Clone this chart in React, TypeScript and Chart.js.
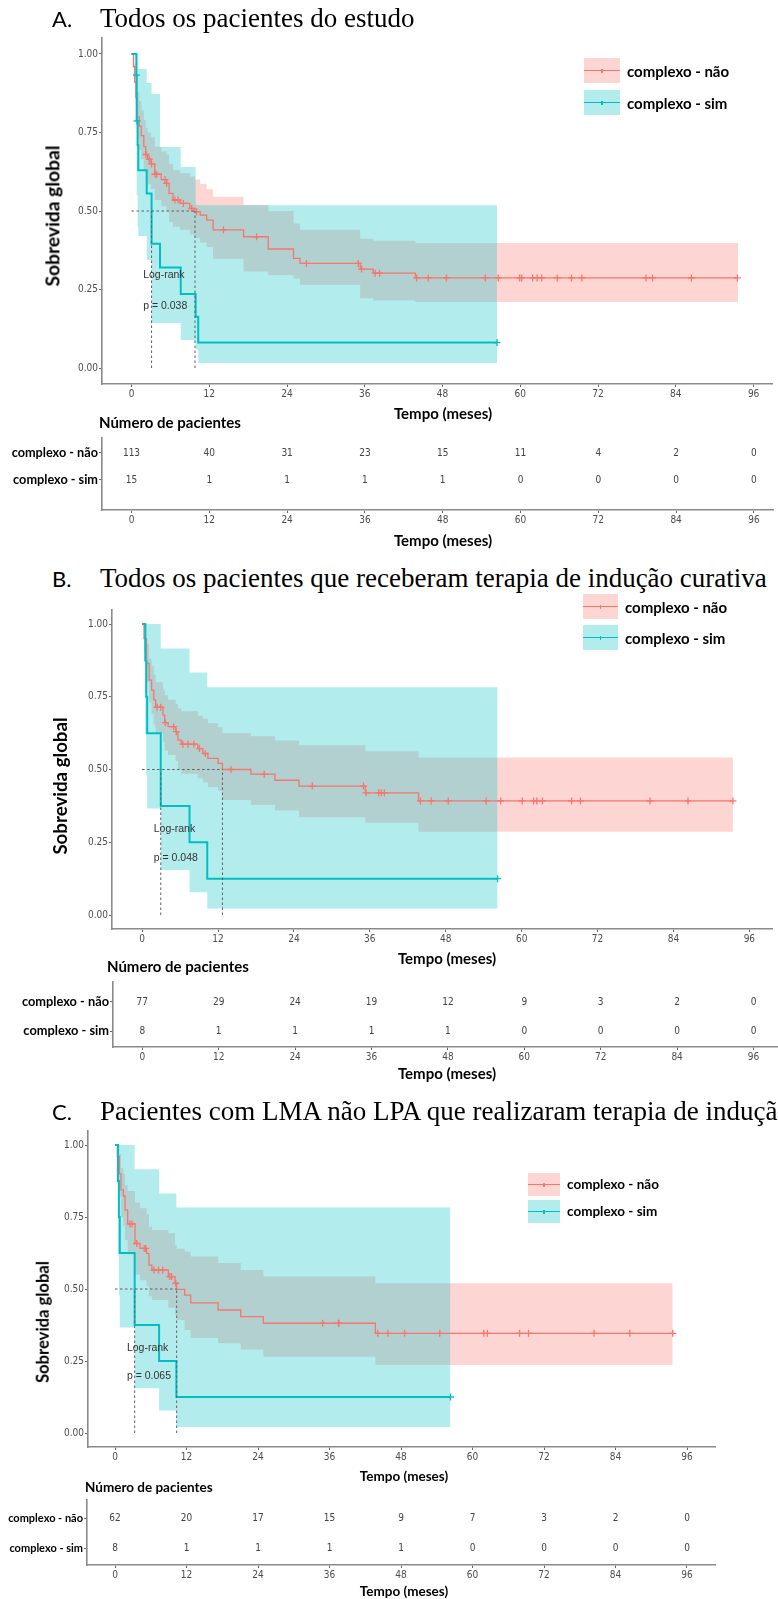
import React, { useEffect, useRef } from 'react';
import { Chart, registerables } from 'chart.js';

Chart.register(...registerables);

// ---------- shared ----------
const TIME_TICKS = [0, 12, 24, 36, 48, 60, 72, 84, 96];
const SURV_TICKS = [0, 0.25, 0.5, 0.75, 1];
const GROUPS = ['complexo - não', 'complexo - sim'];

// ---------- Panel A : Todos os pacientes do estudo ----------
const A_TITLE = 'Todos os pacientes do estudo';
const A_NAO_T = [0, 0.3, 0.5, 0.7, 0.9, 1.2, 1.5, 1.9, 2.2, 2.5, 3.0, 3.6, 4.6, 5.4, 5.8, 6.4, 7.5, 9.0, 9.8, 10.6, 11.6, 12.6, 17.3, 21.1, 25.0, 26.0, 35.3, 37.3, 43.8, 93.6];
const A_NAO_S = [1, 0.96, 0.91, 0.86, 0.80, 0.77, 0.74, 0.705, 0.68, 0.665, 0.65, 0.617, 0.60, 0.588, 0.556, 0.535, 0.524, 0.508, 0.498, 0.487, 0.471, 0.44, 0.418, 0.379, 0.349, 0.333, 0.315, 0.302, 0.287, 0.287];
const A_NAO_UP = [1, 1, 0.97, 0.93, 0.88, 0.85, 0.82, 0.79, 0.765, 0.75, 0.735, 0.705, 0.69, 0.68, 0.65, 0.63, 0.62, 0.61, 0.60, 0.586, 0.569, 0.545, 0.52, 0.50, 0.46, 0.44, 0.412, 0.405, 0.398, 0.398];
const A_NAO_LO = [1, 0.92, 0.86, 0.79, 0.73, 0.695, 0.665, 0.625, 0.60, 0.585, 0.57, 0.535, 0.515, 0.50, 0.465, 0.45, 0.44, 0.425, 0.415, 0.40, 0.385, 0.348, 0.307, 0.296, 0.285, 0.264, 0.222, 0.215, 0.21, 0.21];
const A_NAO_CENS = [2.24, 2.75, 3.1, 3.63, 3.9, 5.17, 5.43, 6.7, 7.2, 8.0, 9.3, 10.05, 14.2, 19.3, 27.0, 35.0, 35.5, 37.6, 38.3, 44.0, 45.8, 48.6, 54.6, 56.6, 59.9, 60.2, 61.9, 62.6, 63.3, 65.7, 67.9, 69.5, 79.4, 80.4, 86.4, 93.5];
const A_SIM_T = [0, 0.75, 0.8, 0.95, 1.05, 2.35, 3.1, 4.4, 7.6, 9.9, 10.3, 56.4];
const A_SIM_S = [1, 0.933, 0.787, 0.71, 0.63, 0.556, 0.396, 0.32, 0.236, 0.163, 0.081, 0.081];
const A_SIM_UP = [1, 1, 1, 1, 0.952, 0.908, 0.873, 0.704, 0.64, 0.52, 0.518, 0.518];
const A_SIM_LO = [1, 0.75, 0.55, 0.45, 0.42, 0.344, 0.143, 0.143, 0.089, 0.06, 0.016, 0.016];
const A_SIM_CENS = [0.77, 0.85, 56.4];
const A_MED_NAO = 9.8;
const A_MED_SIM = 3.1;
const A_P = 'p = 0.038';
const A_RISK_NAO = [113, 40, 31, 23, 15, 11, 4, 2, 0];
const A_RISK_SIM = [15, 1, 1, 1, 1, 0, 0, 0, 0];

// ---------- Panel B : indução curativa ----------
const B_TITLE = 'Todos os pacientes que receberam terapia de indução curativa';
const B_NAO_T = [0, 0.3, 0.7, 1.1, 1.5, 1.85, 2.15, 3.3, 3.57, 4.1, 5.3, 5.66, 6.2, 8.8, 9.6, 10.4, 12.0, 12.7, 17.2, 21.0, 24.8, 35.3, 43.7, 93.4];
const B_NAO_S = [1, 0.95, 0.865, 0.807, 0.773, 0.739, 0.714, 0.687, 0.661, 0.647, 0.63, 0.601, 0.587, 0.572, 0.555, 0.538, 0.521, 0.50, 0.484, 0.463, 0.443, 0.42, 0.392, 0.392];
const B_NAO_UP = [1, 1, 0.93, 0.88, 0.855, 0.825, 0.80, 0.775, 0.755, 0.74, 0.725, 0.71, 0.70, 0.685, 0.675, 0.66, 0.645, 0.625, 0.614, 0.60, 0.583, 0.563, 0.541, 0.541];
const B_NAO_LO = [1, 0.9, 0.80, 0.73, 0.69, 0.655, 0.625, 0.595, 0.565, 0.55, 0.53, 0.50, 0.485, 0.47, 0.455, 0.44, 0.426, 0.395, 0.378, 0.359, 0.336, 0.317, 0.286, 0.286];
const B_NAO_CENS = [2.37, 2.94, 3.67, 4.98, 5.4, 6.45, 7.24, 8.18, 9.07, 10.0, 14.05, 19.3, 26.9, 35.0, 35.4, 37.4, 37.8, 38.3, 44.0, 45.7, 48.4, 54.4, 56.7, 60.1, 61.9, 62.4, 63.3, 67.9, 69.3, 80.3, 86.3, 93.4];
const B_SIM_T = [0, 0.5, 0.65, 0.8, 2.95, 7.5, 10.3, 56.2];
const B_SIM_S = [1, 0.875, 0.75, 0.625, 0.375, 0.25, 0.125, 0.125];
const B_SIM_UP = [1, 1, 1, 1, 0.916, 0.833, 0.783, 0.783];
const B_SIM_LO = [1, 0.62, 0.48, 0.366, 0.155, 0.078, 0.022, 0.022];
const B_SIM_CENS = [56.2];
const B_MED_NAO = 12.7;
const B_MED_SIM = 2.95;
const B_P = 'p = 0.048';
const B_RISK_NAO = [77, 29, 24, 19, 12, 9, 3, 2, 0];
const B_RISK_SIM = [8, 1, 1, 1, 1, 0, 0, 0, 0];

// ---------- Panel C : LMA não LPA ----------
const C_TITLE = 'Pacientes com LMA não LPA que realizaram terapia de indução curativa';
const C_NAO_T = [0, 0.39, 0.73, 1.0, 1.4, 1.68, 2.13, 3.36, 4.2, 5.3, 5.7, 6.2, 8.95, 10.07, 10.35, 11.7, 12.7, 17.3, 21.1, 24.9, 43.7, 93.6];
const C_NAO_S = [1, 0.96, 0.90, 0.844, 0.823, 0.774, 0.726, 0.658, 0.641, 0.624, 0.583, 0.566, 0.543, 0.52, 0.499, 0.479, 0.452, 0.427, 0.404, 0.381, 0.346, 0.346];
const C_NAO_UP = [1, 1, 0.97, 0.92, 0.90, 0.86, 0.84, 0.80, 0.78, 0.76, 0.716, 0.705, 0.694, 0.653, 0.64, 0.63, 0.613, 0.59, 0.566, 0.543, 0.52, 0.52];
const C_NAO_LO = [1, 0.90, 0.82, 0.75, 0.72, 0.67, 0.62, 0.55, 0.53, 0.51, 0.475, 0.462, 0.435, 0.41, 0.392, 0.358, 0.33, 0.312, 0.29, 0.265, 0.236, 0.236];
const C_NAO_CENS = [2.5, 2.85, 3.64, 4.9, 5.15, 6.55, 7.3, 8.0, 9.2, 9.5, 10.2, 34.85, 37.5, 37.6, 44.1, 45.8, 48.6, 54.5, 61.9, 62.5, 67.9, 69.4, 80.4, 86.4, 93.6];
const C_SIM_T = [0, 0.5, 0.65, 0.8, 3.3, 7.4, 10.3, 56.3];
const C_SIM_S = [1, 0.875, 0.75, 0.625, 0.375, 0.25, 0.125, 0.125];
const C_SIM_UP = [1, 1, 1, 1, 0.916, 0.832, 0.783, 0.783];
const C_SIM_LO = [1, 0.62, 0.48, 0.366, 0.155, 0.078, 0.021, 0.021];
const C_SIM_CENS = [56.3];
const C_MED_NAO = 10.35;
const C_MED_SIM = 3.3;
const C_P = 'p = 0.065';
const C_RISK_NAO = [62, 20, 17, 15, 9, 7, 3, 2, 0];
const C_RISK_SIM = [8, 1, 1, 1, 1, 0, 0, 0, 0];

// ---------- styling ----------
const RED = '#F8766D';
const CYAN = '#00BFC4';
const RED_FILL = 'rgba(248,118,109,0.3)';
const CYAN_FILL = 'rgba(0,191,196,0.3)';
const RED_KEY = '#fdd6d3';
const CYAN_KEY = '#b2eced';
const NARROW = "'Liberation Sans Narrow', 'DejaVu Sans Condensed', 'Liberation Sans', Arial, sans-serif";
const BOLD = "Lato, 'Open Sans', 'Liberation Sans', sans-serif";
const SERIF = "'Liberation Serif', 'Times New Roman', serif";
const W = 778;
const PAD = 12;
const AX = 24;

// layout geometry (pixels on the page)
const GEO_A = { left: 102, right: 773, top: 38, bottom: 384, zeroPx: 131.5, px12: 77.8, y0: 368, y1: 54 };
const RISK_A = { left: 102, right: 773, top: 438, bottom: 510, rowNao: 453, rowSim: 480, zeroPx: 131.5, px12: 77.8 };
const GEO_B = { left: 112, right: 777, top: 610, bottom: 929, zeroPx: 142.3, px12: 76.4, y0: 915, y1: 624 };
const RISK_B = { left: 113, right: 777, top: 982, bottom: 1047, rowNao: 1002, rowSim: 1031, zeroPx: 142.3, px12: 76.4 };
const GEO_C = { left: 88, right: 715, top: 1131, bottom: 1447, zeroPx: 115, px12: 71.5, y0: 1433, y1: 1145 };
const RISK_C = { left: 87, right: 715, top: 1500, bottom: 1565, rowNao: 1518, rowSim: 1548, zeroPx: 115, px12: 71.5 };

function stepAt(ts: number[], ss: number[], x: number) {
  let v = ss[0];
  for (let i = 0; i < ts.length; i++) {
    if (ts[i] <= x) v = ss[i];
    else break;
  }
  return v;
}
const pts = (xs: number[], ys: number[]) => xs.map((x, i) => ({ x, y: ys[i] }));

const gridOpts = { display: true, drawOnChartArea: false, drawTicks: true, tickLength: 3, tickColor: '#666', tickWidth: 1 };
const borderOpts = { display: true, color: '#8a8a8a', width: 1.6 };

function timeScale(min: number, max: number) {
  return {
    type: 'linear',
    min,
    max,
    afterBuildTicks: (s: any) => { s.ticks = TIME_TICKS.map((v) => ({ value: v })); },
    afterFit: (s: any) => { s.height = AX; },
    ticks: { font: { family: NARROW, size: 10 }, color: '#4d4d4d', padding: 1, maxRotation: 0, autoSkip: false, callback: (v: any) => String(v) },
    grid: gridOpts,
    border: borderOpts,
  };
}

function KMPlot(props: any) {
  const { g, nao, sim, medNao, medSim, pText, noteX } = props;
  const ref = useRef<HTMLCanvasElement | null>(null);
  const cTop = g.top - PAD;
  const cH = g.bottom + AX - cTop;
  useEffect(() => {
    const pxm = g.px12 / 12;
    const xMin = (g.left - g.zeroPx) / pxm;
    const xMax = (g.right - g.zeroPx) / pxm;
    const pu = g.y0 - g.y1;
    const yMin = -(g.bottom - g.y0) / pu;
    const yMax = 1 + (g.y1 - g.top) / pu;
    const band = (c: any, color: string, order: number) => [
      { data: pts(c.t, c.up), stepped: true, borderWidth: 0, borderColor: 'rgba(0,0,0,0)', backgroundColor: color, fill: '+1', pointRadius: 0, order },
      { data: pts(c.t, c.lo), stepped: true, borderWidth: 0, borderColor: 'rgba(0,0,0,0)', backgroundColor: color, fill: false, pointRadius: 0, order },
    ];
    const cens = (c: any, color: string, order: number) => ({
      data: c.cens.map((t: number) => ({ x: t, y: stepAt(c.t, c.s, t) })),
      showLine: false, pointStyle: 'cross', pointRadius: 3.5, pointBorderWidth: 1.3,
      pointBorderColor: color, borderColor: color, backgroundColor: color, order,
    });
    const dash = (data: any[]) => ({ data, borderColor: '#5f5f5f', borderWidth: 1, borderDash: [2.5, 2.5], pointRadius: 0, fill: false, order: 1 });
    const datasets: any[] = [
      ...band(nao, RED_FILL, 10),
      ...band(sim, CYAN_FILL, 9),
      { data: pts(nao.t, nao.s), stepped: true, borderColor: RED, borderWidth: 1.3, pointRadius: 0, fill: false, order: 5 },
      { data: pts(sim.t, sim.s), stepped: true, borderColor: CYAN, borderWidth: 2, pointRadius: 0, fill: false, order: 4 },
      cens(nao, RED, 3),
      cens(sim, CYAN, 2),
      dash([{ x: 0, y: 0.5 }, { x: medNao, y: 0.5 }]),
      dash([{ x: medSim, y: 0 }, { x: medSim, y: 0.5 }]),
      dash([{ x: medNao, y: 0 }, { x: medNao, y: 0.5 }]),
    ];
    const notes = {
      id: 'notes',
      afterDatasetsDraw(chart: any) {
        const { ctx } = chart;
        const x = chart.scales.x;
        const y = chart.scales.y;
        ctx.save();
        ctx.font = "10.5px 'Liberation Sans', Arial, sans-serif";
        ctx.fillStyle = '#333';
        ctx.textAlign = 'left';
        ctx.textBaseline = 'middle';
        ctx.fillText('Log-rank', x.getPixelForValue(noteX), y.getPixelForValue(0.296));
        ctx.fillText(pText, x.getPixelForValue(noteX), y.getPixelForValue(0.197));
        ctx.restore();
      },
    };
    const chart = new Chart(ref.current as HTMLCanvasElement, {
      type: 'line',
      data: { datasets },
      options: {
        animation: false,
        responsive: false,
        devicePixelRatio: 1,
        layout: { padding: { left: 0, right: W - g.right, top: PAD, bottom: 0 } },
        plugins: { legend: { display: false }, tooltip: { enabled: false } },
        scales: {
          x: timeScale(xMin, xMax),
          y: {
            type: 'linear',
            min: yMin,
            max: yMax,
            afterBuildTicks: (s: any) => { s.ticks = SURV_TICKS.map((v) => ({ value: v })); },
            afterFit: (s: any) => { s.width = g.left; },
            ticks: { font: { family: NARROW, size: 10 }, color: '#4d4d4d', padding: 1, callback: (v: any) => Number(v).toFixed(2) },
            grid: gridOpts,
            border: borderOpts,
          },
        },
      } as any,
      plugins: [notes],
    } as any);
    return () => chart.destroy();
  }, []);
  return <canvas ref={ref} width={W} height={cH} style={{ position: 'absolute', left: 0, top: cTop, width: W, height: cH, display: 'block' }} />;
}

function RiskTable(props: any) {
  const { g, nao, sim, labelSize } = props;
  const ref = useRef<HTMLCanvasElement | null>(null);
  const cTop = g.top - PAD;
  const cH = g.bottom + AX - cTop;
  useEffect(() => {
    const pxm = g.px12 / 12;
    const xMin = (g.left - g.zeroPx) / pxm;
    const xMax = (g.right - g.zeroPx) / pxm;
    const pu = g.rowSim - g.rowNao;
    const yMax = 2 + (g.rowNao - g.top) / pu;
    const yMin = 1 - (g.bottom - g.rowSim) / pu;
    const numbers = {
      id: 'riskNumbers',
      afterDraw(chart: any) {
        const { ctx } = chart;
        const x = chart.scales.x;
        const y = chart.scales.y;
        ctx.save();
        ctx.font = `10px ${NARROW}`;
        ctx.fillStyle = '#444';
        ctx.textAlign = 'center';
        ctx.textBaseline = 'middle';
        TIME_TICKS.forEach((t, i) => {
          ctx.fillText(String(nao[i]), x.getPixelForValue(t), y.getPixelForValue(2));
          ctx.fillText(String(sim[i]), x.getPixelForValue(t), y.getPixelForValue(1));
        });
        ctx.restore();
      },
    };
    const chart = new Chart(ref.current as HTMLCanvasElement, {
      type: 'line',
      data: { datasets: [] },
      options: {
        animation: false,
        responsive: false,
        devicePixelRatio: 1,
        layout: { padding: { left: 0, right: W - g.right, top: PAD, bottom: 0 } },
        plugins: { legend: { display: false }, tooltip: { enabled: false } },
        scales: {
          x: timeScale(xMin, xMax),
          y: {
            type: 'linear',
            min: yMin,
            max: yMax,
            afterBuildTicks: (s: any) => { s.ticks = [{ value: 1 }, { value: 2 }]; },
            afterFit: (s: any) => { s.width = g.left; },
            ticks: { font: { family: BOLD, size: labelSize, weight: 'bold' }, color: '#000', padding: 1, callback: (v: any) => (Number(v) === 2 ? GROUPS[0] : GROUPS[1]) },
            grid: gridOpts,
            border: borderOpts,
          },
        },
      } as any,
      plugins: [numbers],
    } as any);
    return () => chart.destroy();
  }, []);
  return <canvas ref={ref} width={W} height={cH} style={{ position: 'absolute', left: 0, top: cTop, width: W, height: cH, display: 'block' }} />;
}

function Txt(props: any) {
  const { x, y, size, children, align = 'left', bold = true, family = BOLD, rotate = false, color = '#000' } = props;
  let transform = align === 'center' ? 'translate(-50%,-50%)' : 'translate(0,-50%)';
  if (rotate) transform = 'translate(-50%,-50%) rotate(-90deg)';
  return (
    <div style={{ position: 'absolute', left: x, top: y, transform, fontFamily: family, fontSize: size, fontWeight: bold ? 700 : 400, whiteSpace: 'nowrap', lineHeight: 1, color }}>
      {children}
    </div>
  );
}

function Title(props: any) {
  const { letter, text, baseline } = props;
  const top = baseline - 22.5;
  return (
    <>
      <div style={{ position: 'absolute', left: 52, top, fontFamily: BOLD, fontSize: 22, lineHeight: '27px', whiteSpace: 'nowrap', color: '#000' }}>{letter}</div>
      <div style={{ position: 'absolute', left: 100, top, fontFamily: SERIF, fontSize: 27, lineHeight: '27px', whiteSpace: 'nowrap', color: '#000' }}>{text}</div>
    </>
  );
}

function Key(props: any) {
  const { x, y, w, h, fill, line } = props;
  return (
    <div style={{ position: 'absolute', left: x, top: y, width: w, height: h, background: fill }}>
      <div style={{ position: 'absolute', left: 0, width: w, top: h / 2 - 0.75, height: 1.5, background: line }} />
      <div style={{ position: 'absolute', left: w / 2 - 0.6, width: 1.2, top: h / 2 - 2, height: 4, background: line }} />
    </div>
  );
}

function Legend(props: any) {
  const { x, y1, y2, w, h, textX, size } = props;
  return (
    <>
      <Key x={x} y={y1} w={w} h={h} fill={RED_KEY} line={RED} />
      <Key x={x} y={y2} w={w} h={h} fill={CYAN_KEY} line={CYAN} />
      <Txt x={textX} y={y1 + h / 2} size={size}>{GROUPS[0]}</Txt>
      <Txt x={textX} y={y2 + h / 2} size={size}>{GROUPS[1]}</Txt>
    </>
  );
}

export default function App() {
  const curve = (t: number[], s: number[], up: number[], lo: number[], cens: number[]) => ({ t, s, up, lo, cens });
  return (
    <div style={{ position: 'absolute', left: 0, top: 0, width: W, height: 1599, overflow: 'hidden', background: '#fff' }}>
      {/* Panel A */}
      <KMPlot g={GEO_A} nao={curve(A_NAO_T, A_NAO_S, A_NAO_UP, A_NAO_LO, A_NAO_CENS)} sim={curve(A_SIM_T, A_SIM_S, A_SIM_UP, A_SIM_LO, A_SIM_CENS)} medNao={A_MED_NAO} medSim={A_MED_SIM} pText={A_P} noteX={1.8} />
      <RiskTable g={RISK_A} nao={A_RISK_NAO} sim={A_RISK_SIM} labelSize={12.7} />
      {/* Panel B */}
      <KMPlot g={GEO_B} nao={curve(B_NAO_T, B_NAO_S, B_NAO_UP, B_NAO_LO, B_NAO_CENS)} sim={curve(B_SIM_T, B_SIM_S, B_SIM_UP, B_SIM_LO, B_SIM_CENS)} medNao={B_MED_NAO} medSim={B_MED_SIM} pText={B_P} noteX={1.84} />
      <RiskTable g={RISK_B} nao={B_RISK_NAO} sim={B_RISK_SIM} labelSize={12.8} />
      {/* Panel C */}
      <KMPlot g={GEO_C} nao={curve(C_NAO_T, C_NAO_S, C_NAO_UP, C_NAO_LO, C_NAO_CENS)} sim={curve(C_SIM_T, C_SIM_S, C_SIM_UP, C_SIM_LO, C_SIM_CENS)} medNao={C_MED_NAO} medSim={C_MED_SIM} pText={C_P} noteX={2.0} />
      <RiskTable g={RISK_C} nao={C_RISK_NAO} sim={C_RISK_SIM} labelSize={11} />

      {/* texts A */}
      <Title letter="A." text={A_TITLE} baseline={27} />
      <Txt x={52} y={216} size={19.2} rotate>Sobrevida global</Txt>
      <Legend x={584} y1={58} y2={90} w={36} h={25} textX={627} size={15} />
      <Txt x={443} y={413} size={15} align="center">Tempo (meses)</Txt>
      <Txt x={99} y={422} size={15}>Número de pacientes</Txt>
      <Txt x={443} y={540} size={15} align="center">Tempo (meses)</Txt>

      {/* texts B */}
      <Title letter="B." text={B_TITLE} baseline={587} />
      <Txt x={60} y={786} size={18.7} rotate>Sobrevida global</Txt>
      <Legend x={583} y1={594} y2={625} w={35} h={25} textX={625} size={15} />
      <Txt x={447} y={958} size={15} align="center">Tempo (meses)</Txt>
      <Txt x={107} y={966} size={15}>Número de pacientes</Txt>
      <Txt x={447} y={1073} size={15} align="center">Tempo (meses)</Txt>

      {/* texts C */}
      <Title letter="C." text={C_TITLE} baseline={1120} />
      <Txt x={43} y={1322} size={16.6} rotate>Sobrevida global</Txt>
      <Legend x={528} y1={1173} y2={1200} w={32} h={23} textX={567} size={13.5} />
      <Txt x={404} y={1477} size={13.5} align="center">Tempo (meses)</Txt>
      <Txt x={85} y={1488} size={13.5}>Número de pacientes</Txt>
      <Txt x={404} y={1592} size={13.5} align="center">Tempo (meses)</Txt>
    </div>
  );
}
